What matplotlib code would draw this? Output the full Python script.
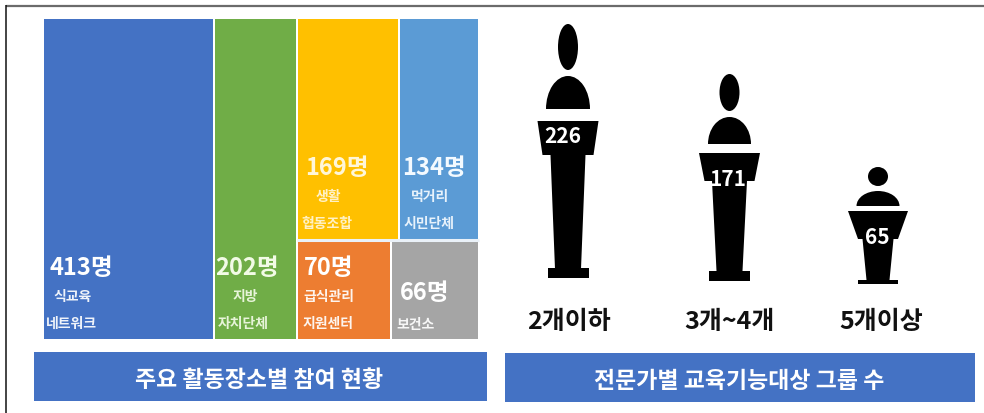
import matplotlib
matplotlib.use('Agg')
import matplotlib.pyplot as plt
from matplotlib.patches import Rectangle, Polygon, Ellipse

plt.rcParams['font.family'] = ['Noto Sans CJK KR', 'DejaVu Sans']

# data
places = ['식교육\n네트워크', '지방\n자치단체', '생활\n협동조합', '먹거리\n시민단체', '급식관리\n지원센터', '보건소']
participants = [413, 202, 169, 134, 70, 66]
place_colors = ['#4472C4', '#70AD47', '#FFC000', '#5B9BD5', '#ED7D31', '#A5A5A5']
group_labels = ['2개이하', '3개~4개', '5개이상']
group_counts = [226, 171, 65]
left_title = '주요 활동장소별 참여 현황'
right_title = '전문가별 교육기능대상 그룹 수'

fig = plt.figure(figsize=(9.84, 4.14), dpi=100, facecolor='white')
ax = fig.add_axes([0, 0, 1, 1])
ax.set_xlim(0, 984)
ax.set_ylim(414, 0)
ax.axis('off')

# frame
ax.plot([6, 984], [6.5, 6.5], color='#6b6b6b', lw=1.6, solid_capstyle='butt')
ax.plot([6.3, 6.3], [6, 414], color='#111111', lw=1.1, solid_capstyle='butt')

# treemap layout computed from the values
X0, X1, Y0, Y1 = 43, 479, 20, 340
W, H = X1 - X0, Y1 - Y0
total = sum(participants)
w0 = W * participants[0] / total
w1 = W * participants[1] / total
xr = X0 + w0 + w1
wr = X1 - xr
top = participants[2] + participants[3]
bot = participants[4] + participants[5]
ht = H * top / (top + bot)
cells = [
    (X0, Y0, w0, H),
    (X0 + w0, Y0, w1, H),
    (xr, Y0, wr * participants[2] / top, ht),
    (xr + wr * participants[2] / top, Y0, wr * participants[3] / top, ht),
    (xr, Y0 + ht, wr * participants[4] / bot, H - ht),
    (xr + wr * participants[4] / bot, Y0 + ht, wr * participants[5] / bot, H - ht),
]
for (x, y, w, h), c in zip(cells, place_colors):
    ax.add_patch(Rectangle((x + 1, y), w - 2, h, facecolor=c, edgecolor='none'))
# thin horizontal gap between the two right-hand rows
ax.plot([xr, X1], [Y0 + ht, Y0 + ht], color='#EAF1F8', lw=2.2, solid_capstyle='butt')

# label anchors (value centre, line 1, line 2)
value_pos = [(81, 268), (247, 268), (337, 168), (434, 168), (329, 268), (425, 293)]
line_pos = [[(73, 297), (71, 324)], [(245, 297), (243, 324)], [(328, 197), (327, 224)],
            [(430, 197), (429, 224)], [(329, 297), (328, 324)], [(416, 325)]]
value_colors = ['white', '#F2FBE6', '#FFF6D8', '#F4FAFF', 'white', 'white']
for v, name, vp, lp, vc in zip(participants, places, value_pos, line_pos, value_colors):
    ax.text(*vp, f'{v}명', color=vc, fontsize=17, fontweight='bold', ha='center', va='center')
    for part, p in zip(name.split('\n'), lp):
        ax.text(*p, part, color=vc, fontsize=10, fontweight='bold', ha='center', va='center', alpha=0.92)

# banners
for x0, x1, y0, y1, title, cx in [(34, 487, 353, 402, left_title, 259),
                                  (505, 975, 354, 403, right_title, 739)]:
    ax.add_patch(Rectangle((x0, y0), x1 - x0, y1 - y0, facecolor='#4472C4', edgecolor='none'))
    ax.text(cx, (y0 + y1) / 2 + 3, title, color='white', fontsize=16.5, fontweight='bold',
            ha='center', va='center')


# podium pictograms
def podium(cx, head, dome, lect, col, base):
    hy0, hy1, hw = head
    ax.add_patch(Ellipse((cx, (hy0 + hy1) / 2), hw, hy1 - hy0, color='black', lw=0))
    dy0, dy1, dw = dome
    e = Ellipse((cx, dy1), dw, 2 * (dy1 - dy0), color='black', lw=0)
    ax.add_patch(e)
    e.set_clip_path(Rectangle((cx - dw, dy0 - 1), 2 * dw, dy1 - dy0 + 1, transform=ax.transData))
    ly0, ly1, ltw, lbw = lect
    ax.add_patch(Polygon([(cx - ltw / 2, ly0), (cx + ltw / 2, ly0), (cx + lbw / 2, ly1), (cx - lbw / 2, ly1)],
                         color='black', lw=0))
    cy0, cy1, ctw, cbw = col
    ax.add_patch(Polygon([(cx - ctw / 2, cy0), (cx + ctw / 2, cy0), (cx + cbw / 2, cy1), (cx - cbw / 2, cy1)],
                         color='black', lw=0))
    by0, by1, bw = base
    ax.add_patch(Rectangle((cx - bw / 2, by0), bw, by1 - by0, color='black', lw=0))


podium(568, (25, 71, 20), (77, 110, 44), (122, 156, 61, 51), (156, 270, 35, 26), (269, 279, 41))
podium(729.5, (75, 112, 20), (118, 145, 43), (154, 182, 61, 50), (182, 272, 35, 26), (272, 282, 41))
podium(878, (168, 187, 20), (192, 207, 43), (212, 240, 60, 40), (240, 281, 31, 23), (281, 285, 40))

count_pos = [(563, 137), (728, 180), (877, 238)]
label_pos = [(569, 322), (729, 322), (881, 322)]
for n, lab, cp, lp in zip(group_counts, group_labels, count_pos, label_pos):
    ax.text(*cp, str(n), color='white', fontsize=15, fontweight='bold', ha='center', va='center')
    ax.text(*lp, lab, color='#111111', fontsize=18, fontweight='bold', ha='center', va='center')

fig.savefig('out.png', dpi=100, facecolor='white')
